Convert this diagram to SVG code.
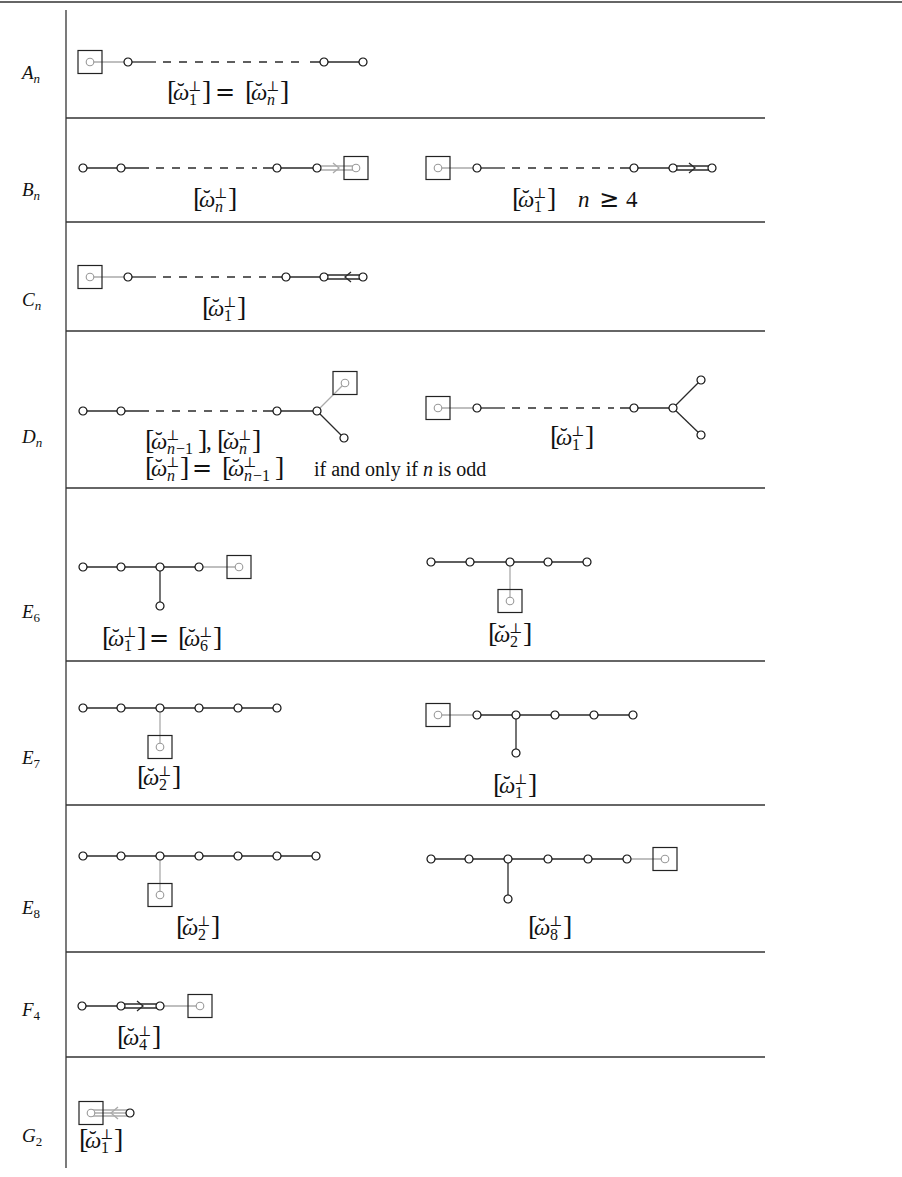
<svg xmlns="http://www.w3.org/2000/svg" width="902" height="1177" viewBox="0 0 902 1177">
<style>
.frame{stroke:#333;stroke-width:1.3;fill:none}
.ln{stroke:#2a2a2a;stroke-width:1.3;fill:none}
.gl{stroke:#aaa;stroke-width:1.3;fill:none}
.dash{stroke-dasharray:8 8}
.nd{fill:#fff;stroke:#111;stroke-width:1.2}
.gn{fill:#fff;stroke:#999;stroke-width:1.1}
.bx{fill:none;stroke:#222;stroke-width:1.2}
text{font-family:"Liberation Serif","Times New Roman",serif;font-size:23px;fill:#111}
.br{font-size:28px}
.i{font-style:italic}
.s{font-size:16px}
.p{font-family:"DejaVu Serif","Liberation Serif",serif;font-size:14px}
.eq{font-family:"DejaVu Sans",sans-serif;font-size:24px}
.rl{font-size:19px;font-style:italic}
.rs{font-size:13px}
.up{font-style:normal}
</style>
<defs>
<circle id="n" r="4" class="nd"/>
<circle id="g" r="3.8" class="gn"/>
<rect id="b" x="-12" y="-11.5" width="24" height="23" class="bx"/>
</defs>

<g id="frame">
<line class="frame" x1="0" y1="2" x2="902" y2="2" style="stroke-width:1.6"/>
<line class="frame" x1="66" y1="10" x2="66" y2="1168"/>
<line class="frame" x1="66" y1="118" x2="765" y2="118"/>
<line class="frame" x1="66" y1="222" x2="765" y2="222"/>
<line class="frame" x1="66" y1="331" x2="765" y2="331"/>
<line class="frame" x1="66" y1="488" x2="765" y2="488"/>
<line class="frame" x1="66" y1="661" x2="765" y2="661"/>
<line class="frame" x1="66" y1="805" x2="765" y2="805"/>
<line class="frame" x1="66" y1="952" x2="765" y2="952"/>
<line class="frame" x1="66" y1="1057" x2="765" y2="1057"/>
</g>

<g id="row-labels">
<text class="rl" x="22" y="79">A<tspan class="rs" dy="4">n</tspan></text>
<text class="rl" x="22" y="196">B<tspan class="rs" dy="4">n</tspan></text>
<text class="rl" x="22" y="306">C<tspan class="rs" dy="4">n</tspan></text>
<text class="rl" x="22" y="443">D<tspan class="rs" dy="4">n</tspan></text>
<text class="rl" x="22" y="618">E<tspan class="rs up" dy="4">6</tspan></text>
<text class="rl" x="22" y="764">E<tspan class="rs up" dy="4">7</tspan></text>
<text class="rl" x="22" y="914">E<tspan class="rs up" dy="4">8</tspan></text>
<text class="rl" x="22" y="1016">F<tspan class="rs up" dy="4">4</tspan></text>
<text class="rl" x="22" y="1142">G<tspan class="rs up" dy="4">2</tspan></text>
</g>

<!-- A_n -->
<g id="An">
<g class="connectors">
<line class="gl" x1="90" y1="62" x2="128" y2="62"/>
<line class="ln" x1="128" y1="62" x2="156" y2="62"/>
<line class="ln dash" x1="163" y1="62" x2="304" y2="62"/>
<line class="ln" x1="310" y1="62" x2="363" y2="62"/>
</g>
<use href="#b" x="90" y="62"/><use href="#g" x="90" y="62"/>
<use href="#n" x="128" y="62"/><use href="#n" x="324" y="62"/><use href="#n" x="363" y="62"/>
<text><tspan class="br" x="167" y="100">[</tspan><tspan class="i" x="173" y="100">ω</tspan><tspan x="177" y="99">˘</tspan><tspan class="p" x="188" y="91">⊥</tspan><tspan class="s" x="189" y="105">1</tspan><tspan class="br" x="202" y="100">]</tspan><tspan class="eq" x="215" y="100">=</tspan><tspan class="br" x="245" y="100">[</tspan><tspan class="i" x="251" y="100">ω</tspan><tspan x="255" y="99">˘</tspan><tspan class="p" x="266" y="91">⊥</tspan><tspan class="s i" x="267" y="105">n</tspan><tspan class="br" x="280" y="100">]</tspan></text>
</g>

<!-- B_n left -->
<g id="Bn-left">
<g class="connectors">
<line class="ln" x1="83" y1="168" x2="149" y2="168"/>
<line class="ln dash" x1="156" y1="168" x2="257" y2="168"/>
<line class="ln" x1="263" y1="168" x2="317" y2="168"/>
<line class="gl" x1="319" y1="166" x2="354" y2="166"/>
<line class="gl" x1="319" y1="170" x2="354" y2="170"/>
<path class="gl" d="M333,163 L339,168 L333,173"/>
</g>
<use href="#n" x="83" y="168"/><use href="#n" x="121" y="168"/><use href="#n" x="277" y="168"/><use href="#n" x="317" y="168"/>
<use href="#b" x="356" y="168"/><use href="#g" x="356" y="168"/>
<text><tspan class="br" x="193" y="207">[</tspan><tspan class="i" x="199" y="207">ω</tspan><tspan x="203" y="206">˘</tspan><tspan class="p" x="214" y="198">⊥</tspan><tspan class="s i" x="215" y="212">n</tspan><tspan class="br" x="228" y="207">]</tspan></text>
</g>

<!-- B_n right -->
<g id="Bn-right">
<g class="connectors">
<line class="gl" x1="438" y1="168" x2="477" y2="168"/>
<line class="ln" x1="477" y1="168" x2="505" y2="168"/>
<line class="ln dash" x1="512" y1="168" x2="614" y2="168"/>
<line class="ln" x1="620" y1="168" x2="673" y2="168"/>
<line class="ln" x1="675" y1="166" x2="710" y2="166"/>
<line class="ln" x1="675" y1="170" x2="710" y2="170"/>
<path class="ln" d="M689,163 L695,168 L689,173"/>
</g>
<use href="#b" x="438" y="168"/><use href="#g" x="438" y="168"/>
<use href="#n" x="477" y="168"/><use href="#n" x="634" y="168"/><use href="#n" x="673" y="168"/><use href="#n" x="712" y="168"/>
<text><tspan class="br" x="512" y="207">[</tspan><tspan class="i" x="518" y="207">ω</tspan><tspan x="522" y="206">˘</tspan><tspan class="p" x="533" y="198">⊥</tspan><tspan class="s" x="534" y="212">1</tspan><tspan class="br" x="547" y="207">]</tspan><tspan class="i" x="578" y="207">n</tspan><tspan class="eq" x="599" y="207">≥</tspan><tspan x="626" y="207">4</tspan></text>
</g>

<!-- C_n -->
<g id="Cn">
<g class="connectors">
<line class="gl" x1="90" y1="277" x2="128" y2="277"/>
<line class="ln" x1="128" y1="277" x2="156" y2="277"/>
<line class="ln dash" x1="163" y1="277" x2="266" y2="277"/>
<line class="ln" x1="272" y1="277" x2="324" y2="277"/>
<line class="ln" x1="326" y1="275" x2="361" y2="275"/>
<line class="ln" x1="326" y1="279" x2="361" y2="279"/>
<path class="ln" d="M351,272 L345,277 L351,282"/>
</g>
<use href="#b" x="90" y="277"/><use href="#g" x="90" y="277"/>
<use href="#n" x="128" y="277"/><use href="#n" x="286" y="277"/><use href="#n" x="324" y="277"/><use href="#n" x="363" y="277"/>
<text><tspan class="br" x="202" y="316">[</tspan><tspan class="i" x="208" y="316">ω</tspan><tspan x="212" y="315">˘</tspan><tspan class="p" x="223" y="307">⊥</tspan><tspan class="s" x="224" y="321">1</tspan><tspan class="br" x="237" y="316">]</tspan></text>
</g>

<!-- D_n left -->
<g id="Dn-left">
<g class="connectors">
<line class="ln" x1="83" y1="411" x2="149" y2="411"/>
<line class="ln dash" x1="156" y1="411" x2="257" y2="411"/>
<line class="ln" x1="263" y1="411" x2="317" y2="411"/>
<line class="gl" x1="317" y1="411" x2="345" y2="383"/>
<line class="ln" x1="317" y1="411" x2="344" y2="438"/>
</g>
<use href="#b" x="345" y="383"/><use href="#g" x="345" y="383"/>
<use href="#n" x="83" y="411"/><use href="#n" x="121" y="411"/><use href="#n" x="277" y="411"/><use href="#n" x="317" y="411"/><use href="#n" x="344" y="438"/>
<text><tspan class="br" x="145" y="449">[</tspan><tspan class="i" x="151" y="449">ω</tspan><tspan x="155" y="448">˘</tspan><tspan class="p" x="166" y="440">⊥</tspan><tspan class="s i" x="167" y="454">n</tspan><tspan class="s" dx="1" y="454">−1</tspan><tspan class="br" x="198" y="449">]</tspan><tspan x="206" y="449">,</tspan><tspan class="br" x="217" y="449">[</tspan><tspan class="i" x="223" y="449">ω</tspan><tspan x="227" y="448">˘</tspan><tspan class="p" x="238" y="440">⊥</tspan><tspan class="s i" x="239" y="454">n</tspan><tspan class="br" x="252" y="449">]</tspan></text>
<text><tspan class="br" x="145" y="476">[</tspan><tspan class="i" x="151" y="476">ω</tspan><tspan x="155" y="475">˘</tspan><tspan class="p" x="166" y="467">⊥</tspan><tspan class="s i" x="167" y="481">n</tspan><tspan class="br" x="180" y="476">]</tspan><tspan class="eq" x="192" y="476">=</tspan><tspan class="br" x="222" y="476">[</tspan><tspan class="i" x="228" y="476">ω</tspan><tspan x="232" y="475">˘</tspan><tspan class="p" x="243" y="467">⊥</tspan><tspan class="s i" x="244" y="481">n</tspan><tspan class="s" dx="1" y="481">−1</tspan><tspan class="br" x="275" y="476">]</tspan><tspan x="314" y="476" style="font-size:20px">if and only if <tspan class="i">n</tspan> is odd</tspan></text>
</g>

<!-- D_n right -->
<g id="Dn-right">
<g class="connectors">
<line class="gl" x1="438" y1="408" x2="477" y2="408"/>
<line class="ln" x1="477" y1="408" x2="505" y2="408"/>
<line class="ln dash" x1="512" y1="408" x2="614" y2="408"/>
<line class="ln" x1="620" y1="408" x2="673" y2="408"/>
<line class="ln" x1="673" y1="408" x2="701" y2="380"/>
<line class="ln" x1="673" y1="408" x2="701" y2="435"/>
</g>
<use href="#b" x="438" y="408"/><use href="#g" x="438" y="408"/>
<use href="#n" x="477" y="408"/><use href="#n" x="634" y="408"/><use href="#n" x="673" y="408"/><use href="#n" x="701" y="380"/><use href="#n" x="701" y="435"/>
<text><tspan class="br" x="550" y="445">[</tspan><tspan class="i" x="556" y="445">ω</tspan><tspan x="560" y="444">˘</tspan><tspan class="p" x="571" y="436">⊥</tspan><tspan class="s" x="572" y="450">1</tspan><tspan class="br" x="585" y="445">]</tspan></text>
</g>

<!-- E6 left -->
<g id="E6-left">
<g class="connectors">
<line class="ln" x1="83" y1="567" x2="199" y2="567"/>
<line class="ln" x1="160" y1="567" x2="160" y2="606"/>
<line class="gl" x1="199" y1="567" x2="239" y2="567"/>
</g>
<use href="#n" x="83" y="567"/><use href="#n" x="121" y="567"/><use href="#n" x="160" y="567"/><use href="#n" x="199" y="567"/><use href="#n" x="160" y="606"/>
<use href="#b" x="239" y="567"/><use href="#g" x="239" y="567"/>
<text><tspan class="br" x="102" y="646">[</tspan><tspan class="i" x="108" y="646">ω</tspan><tspan x="112" y="645">˘</tspan><tspan class="p" x="123" y="637">⊥</tspan><tspan class="s" x="124" y="651">1</tspan><tspan class="br" x="137" y="646">]</tspan><tspan class="eq" x="149" y="646">=</tspan><tspan class="br" x="178" y="646">[</tspan><tspan class="i" x="184" y="646">ω</tspan><tspan x="188" y="645">˘</tspan><tspan class="p" x="199" y="637">⊥</tspan><tspan class="s" x="200" y="651">6</tspan><tspan class="br" x="213" y="646">]</tspan></text>
</g>

<!-- E6 right -->
<g id="E6-right">
<g class="connectors">
<line class="ln" x1="431" y1="562" x2="587" y2="562"/>
<line class="gl" x1="510" y1="562" x2="510" y2="601"/>
</g>
<use href="#n" x="431" y="562"/><use href="#n" x="470" y="562"/><use href="#n" x="510" y="562"/><use href="#n" x="548" y="562"/><use href="#n" x="587" y="562"/>
<use href="#b" x="510" y="601"/><use href="#g" x="510" y="601"/>
<text><tspan class="br" x="488" y="642">[</tspan><tspan class="i" x="494" y="642">ω</tspan><tspan x="498" y="641">˘</tspan><tspan class="p" x="509" y="633">⊥</tspan><tspan class="s" x="510" y="647">2</tspan><tspan class="br" x="523" y="642">]</tspan></text>
</g>

<!-- E7 left -->
<g id="E7-left">
<g class="connectors">
<line class="ln" x1="83" y1="708" x2="277" y2="708"/>
<line class="gl" x1="160" y1="708" x2="160" y2="747"/>
</g>
<use href="#n" x="83" y="708"/><use href="#n" x="121" y="708"/><use href="#n" x="160" y="708"/><use href="#n" x="199" y="708"/><use href="#n" x="238" y="708"/><use href="#n" x="277" y="708"/>
<use href="#b" x="160" y="747"/><use href="#g" x="160" y="747"/>
<text><tspan class="br" x="137" y="785">[</tspan><tspan class="i" x="143" y="785">ω</tspan><tspan x="147" y="784">˘</tspan><tspan class="p" x="158" y="776">⊥</tspan><tspan class="s" x="159" y="790">2</tspan><tspan class="br" x="172" y="785">]</tspan></text>
</g>

<!-- E7 right -->
<g id="E7-right">
<g class="connectors">
<line class="gl" x1="438" y1="715" x2="477" y2="715"/>
<line class="ln" x1="477" y1="715" x2="633" y2="715"/>
<line class="ln" x1="516" y1="715" x2="516" y2="753"/>
</g>
<use href="#b" x="438" y="715"/><use href="#g" x="438" y="715"/>
<use href="#n" x="477" y="715"/><use href="#n" x="516" y="715"/><use href="#n" x="555" y="715"/><use href="#n" x="594" y="715"/><use href="#n" x="633" y="715"/><use href="#n" x="516" y="753"/>
<text><tspan class="br" x="493" y="793">[</tspan><tspan class="i" x="499" y="793">ω</tspan><tspan x="503" y="792">˘</tspan><tspan class="p" x="514" y="784">⊥</tspan><tspan class="s" x="515" y="798">1</tspan><tspan class="br" x="528" y="793">]</tspan></text>
</g>

<!-- E8 left -->
<g id="E8-left">
<g class="connectors">
<line class="ln" x1="83" y1="856" x2="316" y2="856"/>
<line class="gl" x1="160" y1="856" x2="160" y2="895"/>
</g>
<use href="#n" x="83" y="856"/><use href="#n" x="121" y="856"/><use href="#n" x="160" y="856"/><use href="#n" x="199" y="856"/><use href="#n" x="238" y="856"/><use href="#n" x="277" y="856"/><use href="#n" x="316" y="856"/>
<use href="#b" x="160" y="895"/><use href="#g" x="160" y="895"/>
<text><tspan class="br" x="176" y="935">[</tspan><tspan class="i" x="182" y="935">ω</tspan><tspan x="186" y="934">˘</tspan><tspan class="p" x="197" y="926">⊥</tspan><tspan class="s" x="198" y="940">2</tspan><tspan class="br" x="211" y="935">]</tspan></text>
</g>

<!-- E8 right -->
<g id="E8-right">
<g class="connectors">
<line class="ln" x1="431" y1="859" x2="627" y2="859"/>
<line class="ln" x1="508" y1="859" x2="508" y2="899"/>
<line class="gl" x1="627" y1="859" x2="665" y2="859"/>
</g>
<use href="#n" x="431" y="859"/><use href="#n" x="469" y="859"/><use href="#n" x="508" y="859"/><use href="#n" x="548" y="859"/><use href="#n" x="588" y="859"/><use href="#n" x="627" y="859"/><use href="#n" x="508" y="899"/>
<use href="#b" x="665" y="859"/><use href="#g" x="665" y="859"/>
<text><tspan class="br" x="528" y="935">[</tspan><tspan class="i" x="534" y="935">ω</tspan><tspan x="538" y="934">˘</tspan><tspan class="p" x="549" y="926">⊥</tspan><tspan class="s" x="550" y="940">8</tspan><tspan class="br" x="563" y="935">]</tspan></text>
</g>

<!-- F4 -->
<g id="F4">
<g class="connectors">
<line class="ln" x1="82" y1="1006" x2="121" y2="1006"/>
<line class="ln" x1="123" y1="1004" x2="158" y2="1004"/>
<line class="ln" x1="123" y1="1008" x2="158" y2="1008"/>
<path class="ln" d="M137,1001 L143,1006 L137,1011"/>
<line class="gl" x1="160" y1="1006" x2="200" y2="1006"/>
</g>
<use href="#n" x="82" y="1006"/><use href="#n" x="121" y="1006"/><use href="#n" x="160" y="1006"/>
<use href="#b" x="200" y="1006"/><use href="#g" x="200" y="1006"/>
<text><tspan class="br" x="117" y="1045">[</tspan><tspan class="i" x="123" y="1045">ω</tspan><tspan x="127" y="1044">˘</tspan><tspan class="p" x="138" y="1036">⊥</tspan><tspan class="s" x="139" y="1050">4</tspan><tspan class="br" x="152" y="1045">]</tspan></text>
</g>

<!-- G2 -->
<g id="G2">
<g class="connectors">
<line class="gl" x1="93" y1="1110" x2="128" y2="1110"/>
<line class="gl" x1="93" y1="1113" x2="128" y2="1113"/>
<line class="gl" x1="93" y1="1116" x2="128" y2="1116"/>
<path class="gl" d="M118,1107 L111,1113 L118,1119"/>
</g>
<use href="#b" x="91" y="1113"/><use href="#g" x="91" y="1113"/>
<use href="#n" x="130" y="1113"/>
<text><tspan class="br" x="79" y="1148">[</tspan><tspan class="i" x="85" y="1148">ω</tspan><tspan x="89" y="1147">˘</tspan><tspan class="p" x="100" y="1139">⊥</tspan><tspan class="s" x="101" y="1153">1</tspan><tspan class="br" x="114" y="1148">]</tspan></text>
</g>
</svg>
